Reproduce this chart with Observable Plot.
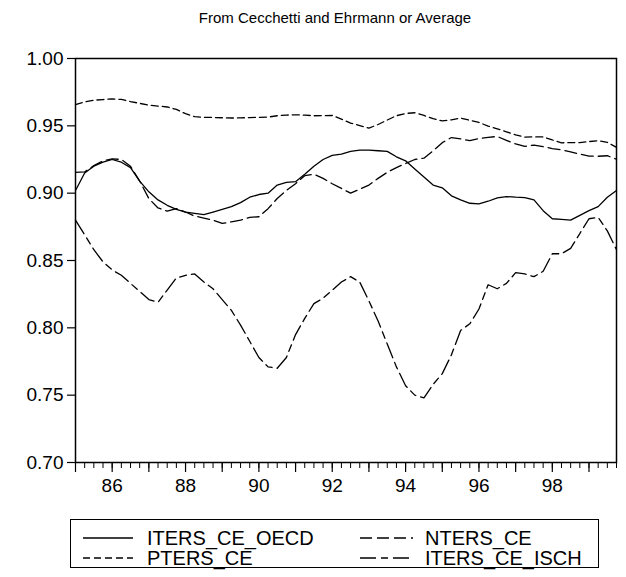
<!DOCTYPE html>
<html><head><meta charset="utf-8">
<script src="https://cdn.jsdelivr.net/npm/d3@7"></script>
<script src="https://cdn.jsdelivr.net/npm/@observablehq/plot@0.6"></script>
<style>
body{margin:0;background:#fff;font-family:"Liberation Sans",Arial,sans-serif;}
#wrap{position:relative;width:626px;height:577px;overflow:hidden;}
#title{box-sizing:border-box;width:626px;height:30px;padding-left:44px;padding-top:10px;font-size:15px;line-height:15px;text-align:center;color:#000;}
#legend{height:72px;}
</style>
</head><body><div id="wrap"><div id="title">From Cecchetti and Ehrmann or Average</div><div id="chart"></div><div id="legend"></div></div>
<script>
// Quarterly data, 1985Q1 - 1999Q4
const firstYear = 1985;
const quarterCount = 60;

const itersCeOecd = [
 0.902,0.915,0.920,0.923,0.925,0.923,0.919,0.909,0.901,0.895,
 0.891,0.888,0.886,0.885,0.884,0.886,0.888,0.890,0.893,0.897,
 0.899,0.900,0.906,0.908,0.9085,0.914,0.920,0.925,0.928,0.929,
 0.931,0.932,0.932,0.9315,0.931,0.927,0.924,0.918,0.912,0.906,
 0.904,0.898,0.895,0.8925,0.892,0.894,0.8965,0.8975,0.897,0.8967,
 0.895,0.887,0.881,0.8805,0.880,0.8835,0.887,0.890,0.897,0.902];

const ntersCe = [
 0.9155,0.9158,0.9205,0.924,0.9255,0.925,0.920,0.909,0.896,0.889,
 0.8867,0.8885,0.886,0.883,0.8815,0.880,0.8775,0.8787,0.880,0.882,
 0.8825,0.8885,0.896,0.902,0.907,0.913,0.914,0.911,0.907,0.9035,
 0.900,0.903,0.906,0.911,0.9155,0.919,0.922,0.925,0.926,0.9315,
 0.9375,0.9413,0.9403,0.939,0.9405,0.9415,0.9421,0.9392,0.9366,0.9347,
 0.9357,0.9345,0.9331,0.9322,0.9307,0.929,0.9275,0.9274,0.9278,0.9252];

const ptersCe = [
 0.9657,0.9677,0.969,0.9695,0.970,0.9696,0.968,0.9667,0.9654,0.9647,
 0.964,0.9622,0.959,0.9568,0.9563,0.9562,0.956,0.9558,0.9559,0.9561,
 0.9563,0.9565,0.9575,0.958,0.9582,0.9579,0.9575,0.9576,0.9577,0.955,
 0.952,0.9502,0.9483,0.951,0.9543,0.9575,0.9592,0.9597,0.9577,0.9553,
 0.9537,0.9545,0.9558,0.9541,0.9525,0.9498,0.9478,0.9456,0.9433,0.9416,
 0.9418,0.9418,0.9395,0.9374,0.9375,0.9376,0.9383,0.939,0.9377,0.934];

const itersCeIsch = [
 0.880,0.869,0.858,0.849,0.843,0.839,0.833,0.827,0.821,0.819,
 0.828,0.837,0.839,0.840,0.834,0.829,0.821,0.813,0.802,0.790,
 0.778,0.771,0.770,0.778,0.795,0.807,0.818,0.822,0.828,0.834,
 0.838,0.834,0.820,0.805,0.788,0.771,0.757,0.750,0.748,0.758,
 0.766,0.780,0.798,0.803,0.814,0.832,0.829,0.833,0.841,0.840,
 0.838,0.842,0.855,0.855,0.859,0.870,0.881,0.882,0.872,0.858];

const seriesNames = ["ITERS_CE_OECD","NTERS_CE","PTERS_CE","ITERS_CE_ISCH"];
const seriesValues = [itersCeOecd, ntersCe, ptersCe, itersCeIsch];
const seriesDash = [null, "12,5", "7,4", "16,5,7,5"];

const yTicks = [0.70,0.75,0.80,0.85,0.90,0.95,1.00];
const yearTicks = d3.range(firstYear, firstYear + 15);
const dates = d3.range(quarterCount).map(i => firstYear + i / 4);

const marks = [
  Plot.frame({stroke: "black", strokeWidth: 1.5}),
  Plot.axisY({ticks: yTicks, tickSize: 8, tickPadding: 4, tickFormat: d => d.toFixed(2), label: null, strokeWidth: 1.2}),
  Plot.axisX({ticks: dates, tickSize: 6, tickFormat: () => "", label: null, strokeWidth: 1}),
  Plot.axisX({ticks: yearTicks, tickSize: 10, tickPadding: 6, tickFormat: d => d % 2 === 0 ? String(d % 100) : "", label: null, strokeWidth: 1.2})
];
seriesValues.forEach((vals, k) => {
  marks.push(Plot.line(vals.map((v, i) => ({t: dates[i], v})), {
    x: "t", y: "v", stroke: "black", strokeWidth: 1.3,
    strokeDasharray: seriesDash[k] || undefined, curve: "linear"
  }));
});

const chart = Plot.plot({
  width: 626, height: 475,
  marginTop: 28, marginBottom: 43, marginLeft: 75, marginRight: 10,
  x: {type: "linear", domain: [firstYear, firstYear + (quarterCount - 1) / 4]},
  y: {domain: [0.70, 1.00]},
  style: {fontFamily: "'Liberation Sans', Arial, sans-serif", fontSize: "19px", color: "black", background: "white"},
  marks
});
document.getElementById("chart").appendChild(chart);

// Legend (below the SVG)
const lg = d3.select("#legend").append("svg").attr("width", 626).attr("height", 72)
  .style("font-family", "'Liberation Sans', Arial, sans-serif");
lg.append("rect").attr("x", 70.5).attr("y", 14.5).attr("width", 528).attr("height", 48)
  .attr("fill", "none").attr("stroke", "black").attr("stroke-width", 1);
const cols = [[83,133,147],[360,413,425]];
[0, 1, 2, 3].forEach((k, j) => {
  const c = cols[j % 2];
  const yy = j < 2 ? 33 : 53;
  lg.append("line").attr("x1", c[0]).attr("x2", c[1]).attr("y1", yy).attr("y2", yy)
    .attr("stroke", "black").attr("stroke-width", 1.3)
    .attr("stroke-dasharray", seriesDash[k] || null);
  lg.append("text").attr("x", c[2]).attr("y", yy).attr("dy", "0.36em")
    .attr("font-size", 20).text(seriesNames[k]);
});
</script>
</body></html>
